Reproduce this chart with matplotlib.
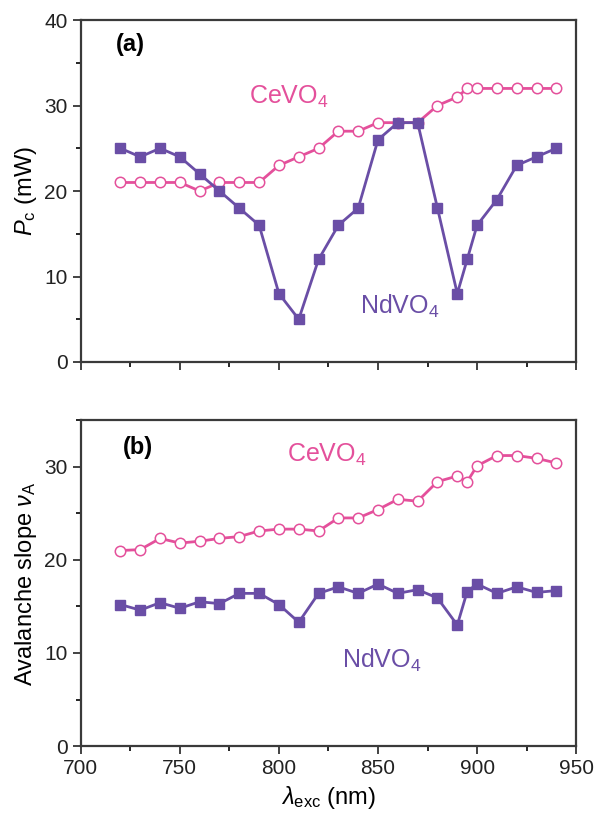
import matplotlib
matplotlib.use('Agg')
import matplotlib.pyplot as plt
from matplotlib.ticker import MultipleLocator

plt.rcParams['font.family'] = ['Liberation Sans', 'DejaVu Sans']
plt.rcParams['mathtext.fontset'] = 'custom'
plt.rcParams['mathtext.it'] = 'Liberation Sans:italic'
plt.rcParams['mathtext.rm'] = 'Liberation Sans'

# excitation wavelengths (nm)
wl = [720, 730, 740, 750, 760, 770, 780, 790, 800, 810, 820, 830,
      840, 850, 860, 870, 880, 890, 895, 900, 910, 920, 930, 940]

# (a) critical power Pc (mW)
pc_nd = [25, 24, 25, 24, 22, 20, 18, 16, 8, 5, 12, 16,
         18, 26, 28, 28, 18, 8, 12, 16, 19, 23, 24, 25]
pc_ce = [21, 21, 21, 21, 20, 21, 21, 21, 23, 24, 25, 27,
         27, 28, 28, 28, 30, 31, 32, 32, 32, 32, 32, 32]

# (b) avalanche slope
sl_nd = [15.2, 14.6, 15.4, 14.8, 15.5, 15.3, 16.4, 16.4, 15.2, 13.3, 16.4, 17.1,
         16.4, 17.4, 16.4, 16.8, 15.9, 13.0, 16.6, 17.4, 16.4, 17.1, 16.5, 16.7]
sl_ce = [21.0, 21.1, 22.3, 21.8, 22.0, 22.3, 22.5, 23.1, 23.3, 23.3, 23.1, 24.5,
         24.5, 25.4, 26.5, 26.3, 28.4, 29.0, 28.4, 30.1, 31.2, 31.2, 30.9, 30.4]

nd_col = '#6a4ea6'
ce_col = '#e4509b'

fig = plt.figure(figsize=(5.94, 8.19), dpi=100)
ax1 = fig.add_axes([0.136, 0.558, 0.834, 0.4175])
ax2 = fig.add_axes([0.136, 0.089, 0.834, 0.398])

def style(ax, ymax):
    ax.set_xlim(700, 950)
    ax.set_ylim(0, ymax)
    ax.xaxis.set_major_locator(MultipleLocator(50))
    ax.xaxis.set_minor_locator(MultipleLocator(25))
    ax.yaxis.set_major_locator(MultipleLocator(10))
    ax.yaxis.set_minor_locator(MultipleLocator(5))
    ax.tick_params(which='major', direction='out', length=6, width=1.2, labelsize=15, colors='#222222')
    ax.tick_params(which='minor', direction='out', length=3.5, width=1.2)
    for sp in ax.spines.values():
        sp.set_linewidth(1.6)
        sp.set_color('#3a3a3a')

for ax, nd, ce in [(ax1, pc_nd, pc_ce), (ax2, sl_nd, sl_ce)]:
    ax.plot(wl, ce, '-o', color=ce_col, lw=2, ms=7.5, mfc='white', mec=ce_col, mew=1.1)
    ax.plot(wl, nd, '-s', color=nd_col, lw=2, ms=7.5, mfc=nd_col, mec=nd_col)

style(ax1, 40)
style(ax2, 35)
ax1.set_xticklabels([])

ax1.set_ylabel(r'$P$$_{\rm c}$ (mW)', fontsize=17)
ax2.set_ylabel(r'Avalanche slope $\nu$$_{\rm A}$', fontsize=17)
ax2.set_xlabel(r'$\lambda$$_{\rm exc}$ (nm)', fontsize=17)
ax1.yaxis.set_label_coords(-0.085, 0.5)
ax2.yaxis.set_label_coords(-0.085, 0.5)

ax1.text(0.07, 0.93, '(a)', transform=ax1.transAxes, fontsize=17, fontweight='bold', va='center')
ax2.text(0.085, 0.915, '(b)', transform=ax2.transAxes, fontsize=17, fontweight='bold', va='center')

ax1.text(785, 31, r'CeVO$_4$', color=ce_col, fontsize=18, va='center')
ax1.text(841, 6.5, r'NdVO$_4$', color=nd_col, fontsize=18, va='center')
ax2.text(804, 31.3, r'CeVO$_4$', color=ce_col, fontsize=18, va='center')
ax2.text(832, 9.2, r'NdVO$_4$', color=nd_col, fontsize=18, va='center')

fig.savefig('out.png', dpi=100)
